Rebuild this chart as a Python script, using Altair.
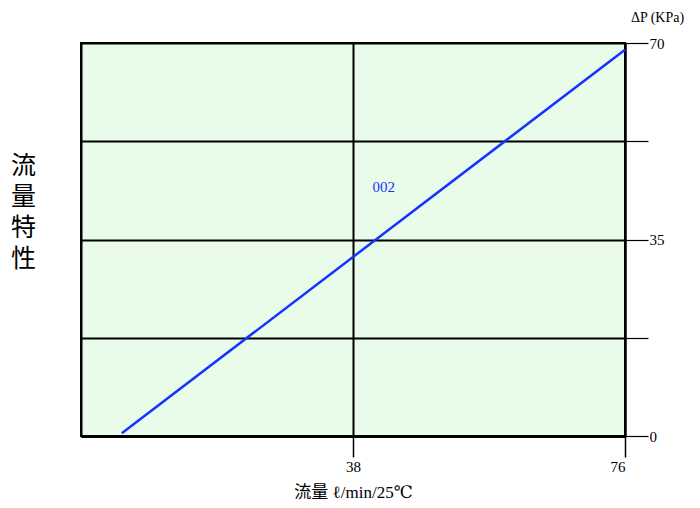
import altair as alt
import pandas as pd

flow = [5.7, 76.0]
pressure = [0.5, 68.8]
series_name = ["002"]
label_x = [42.3]
label_y = [44.4]
x_ticks = [38, 76]
y_ticks = [0, 17.5, 35, 52.5, 70]

line_df = pd.DataFrame({"flow": flow, "dp": pressure})
lab_df = pd.DataFrame({"flow": label_x, "dp": label_y, "name": series_name})

SERIF = "Liberation Serif, DejaVu Serif, Noto Sans CJK JP"

xscale = alt.Scale(domain=[0, 76], nice=False, zero=False)
yscale = alt.Scale(domain=[0, 70], nice=False)

xaxis = alt.Axis(values=x_ticks, grid=True, gridColor="black", gridWidth=2,
                 tickSize=21, tickColor="black", tickWidth=1.5,
                 domainColor="black", domainWidth=3,
                 labelFont=SERIF, labelFontSize=15, labelColor="black", labelPadding=2,
                 title="流量 ℓ/min/25℃", titleFont=SERIF, titleFontSize=17,
                 titleFontWeight="normal", titleColor="black",
                 titleBaseline="alphabetic", titleY=61)

yright = alt.Axis(orient="right", values=y_ticks, grid=True, gridColor="black", gridWidth=2,
                  tickSize=23, tickColor="black", tickWidth=1.2,
                  domainColor="black", domainWidth=2,
                  labelExpr="(datum.value == 17.5 || datum.value == 52.5) ? '' : datum.label",
                  labelFont=SERIF, labelFontSize=15, labelColor="black", labelPadding=1,
                  title="ΔP (KPa)", titleAngle=0, titleFont=SERIF, titleFontSize=14,
                  titleFontWeight="normal", titleColor="black", titleAlign="center",
                  titleBaseline="alphabetic", titleX=32, titleY=-22)

yleft = alt.Axis(orient="left", labels=False, ticks=False, grid=False,
                 domainColor="black", domainWidth=2,
                 title=["流", "量", "特", "性"], titleAngle=0,
                 titleFont="Noto Sans CJK JP", titleFontSize=25, titleFontWeight="normal",
                 titleColor="black", titleLineHeight=31, titleAlign="center",
                 titleBaseline="top", titleX=-58, titleY=110)

line = alt.Chart(line_df).mark_line(color="#1433ff", strokeWidth=2.5).encode(
    x=alt.X("flow:Q", scale=xscale, axis=xaxis),
    y=alt.Y("dp:Q", scale=yscale, axis=yright),
)

label = alt.Chart(lab_df).mark_text(color="#1433ff", font=SERIF, fontSize=15).encode(
    x=alt.X("flow:Q", scale=xscale, axis=xaxis),
    y=alt.Y("dp:Q", scale=yscale, axis=yleft),
    text="name:N",
)

chart = alt.layer(line, label).resolve_axis(y="independent").properties(
    width=544, height=393,
    autosize=alt.AutoSizeParams(type="none"),
    padding={"left": 73, "top": 35, "right": 60, "bottom": 70},
).configure_view(fill="#e9fbe9", stroke="black", strokeWidth=2)

chart.save("out.html", embed_options={"renderer": "svg", "actions": False})
